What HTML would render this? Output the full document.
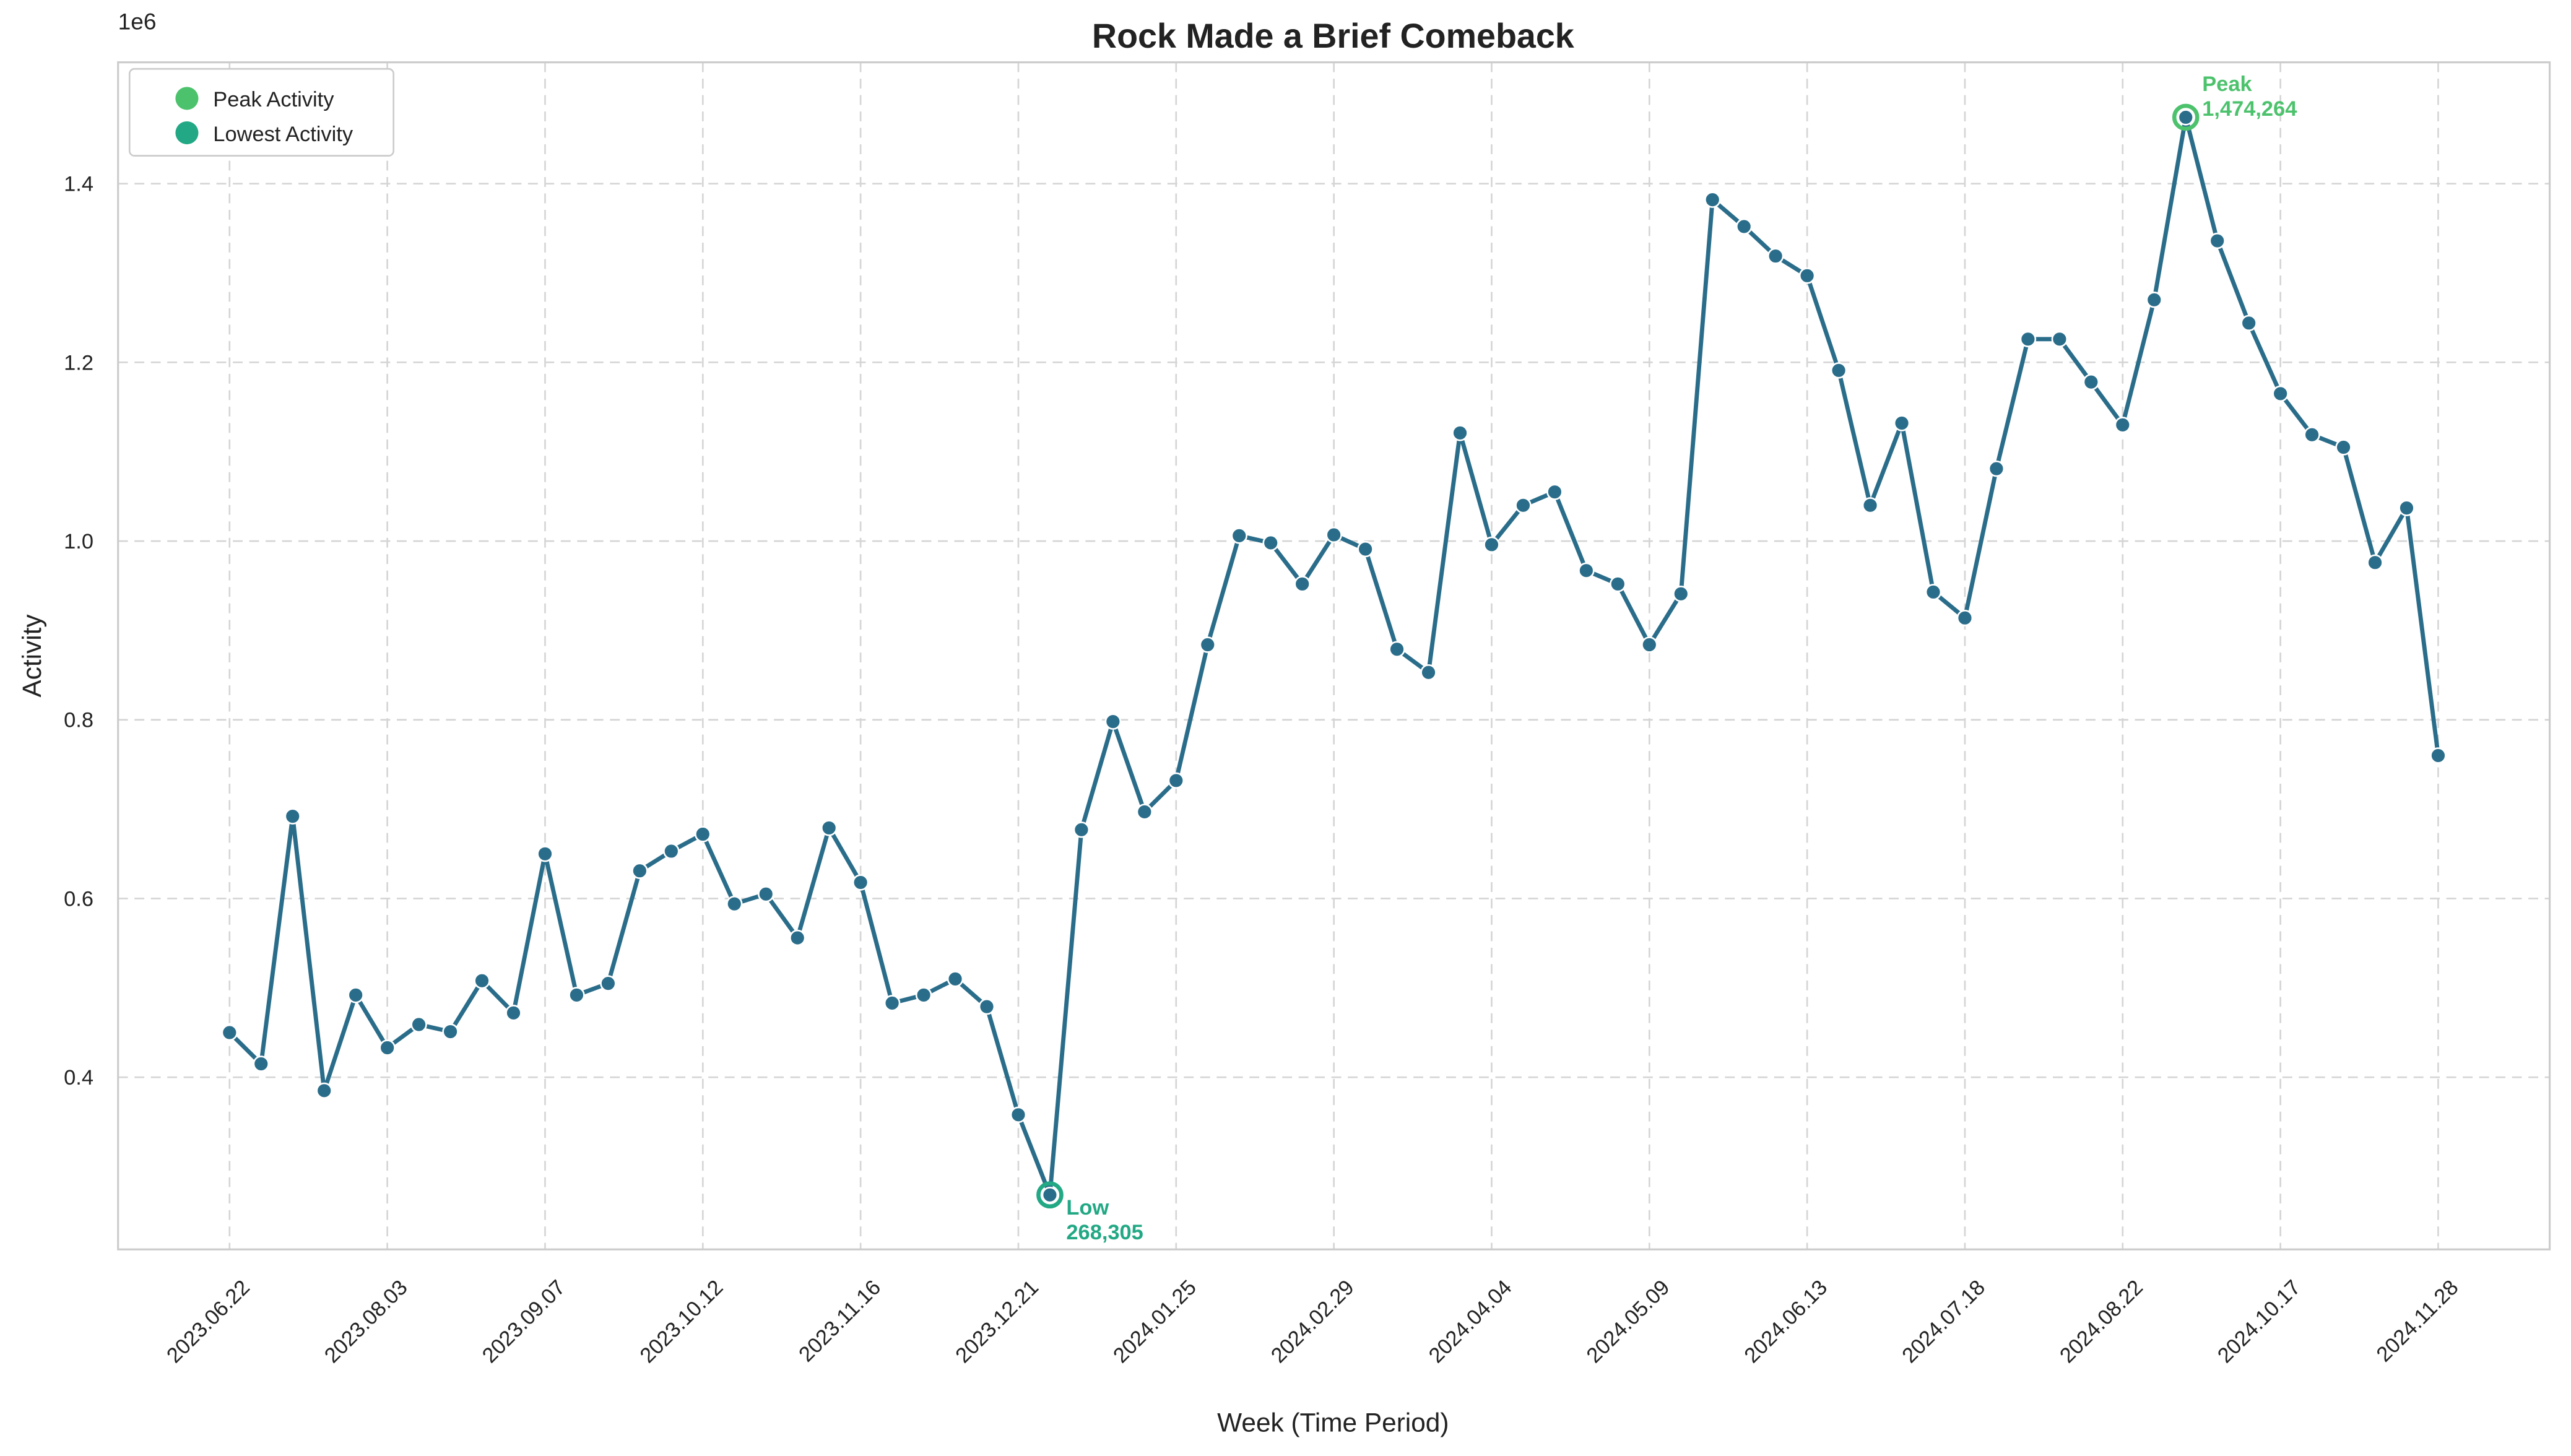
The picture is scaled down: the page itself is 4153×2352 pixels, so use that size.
<!DOCTYPE html>
<html><head><meta charset="utf-8">
<style>
html,body{margin:0;padding:0;background:#fff;}
svg{display:block;font-family:"Liberation Sans","DejaVu Sans",sans-serif;}
</style></head>
<body>
<svg id="chart" width="4153" height="2352" viewBox="0 0 1568 888" preserveAspectRatio="none" xmlns="http://www.w3.org/2000/svg">
<rect x="0" y="0" width="1568" height="888" fill="#fff"/>
<text x="813" y="29" text-anchor="middle" font-size="21" font-weight="bold" fill="#222">Rock Made a Brief Comeback</text>
<g id="grid"></g>
<rect x="72" y="38" width="1483" height="724" fill="none" stroke="#ccc" stroke-width="1.2"/>
<text x="72" y="18" font-size="14" fill="#222">1e6</text>
<text transform="translate(25,400) rotate(-90)" text-anchor="middle" font-size="16" fill="#222">Activity</text>
<text x="813" y="873" text-anchor="middle" font-size="16" fill="#222">Week (Time Period)</text>
<g id="ticks"></g>
<g id="series"></g>
<g id="annot"></g>
<g>
<rect x="79" y="42" width="161" height="53" rx="3" fill="#fff" stroke="#ccc"/>
<circle cx="114" cy="60" r="7" fill="#4cc26c"/>
<text x="130" y="65" font-size="13" fill="#222">Peak Activity</text>
<circle cx="114" cy="81" r="7" fill="#22a884"/>
<text x="130" y="86" font-size="13" fill="#222">Lowest Activity</text>
</g>
</svg>
<script>
const values=[0.450,0.415,0.692,0.385,0.492,0.433,0.459,0.451,0.508,0.472,0.650,0.492,0.505,0.631,0.653,0.672,0.594,0.605,0.556,0.679,0.618,0.483,0.492,0.510,0.479,0.358,0.268305,0.677,0.798,0.697,0.732,0.884,1.006,0.998,0.952,1.007,0.991,0.879,0.853,1.121,0.996,1.040,1.055,0.967,0.952,0.884,0.941,1.382,1.352,1.319,1.297,1.191,1.040,1.132,0.943,0.914,1.081,1.226,1.226,1.178,1.130,1.270,1.474264,1.336,1.244,1.165,1.119,1.105,0.976,1.037,0.760];
const tickLabels=["2023.06.22","2023.08.03","2023.09.07","2023.10.12","2023.11.16","2023.12.21","2024.01.25","2024.02.29","2024.04.04","2024.05.09","2024.06.13","2024.07.18","2024.08.22","2024.10.17","2024.11.28"];
const yTicks=[0.4,0.6,0.8,1.0,1.2,1.4];
const NS="http://www.w3.org/2000/svg";
const X0=140,X1=1487;
function xs(i){return X0+i*(X1-X0)/(values.length-1);}
function ys(v){return 657-(v-0.4)*545;}
function mk(tag,attrs,parent){const e=document.createElementNS(NS,tag);for(const k in attrs)e.setAttribute(k,attrs[k]);parent.appendChild(e);return e;}
const grid=document.getElementById('grid'),ticks=document.getElementById('ticks'),series=document.getElementById('series'),annot=document.getElementById('annot');
yTicks.forEach(v=>{
  const l=mk('line',{x1:72,x2:1555,y1:ys(v),y2:ys(v),stroke:'#d5d5d5','stroke-dasharray':'6,4','stroke-width':1},grid);
  
  
  const t=mk('text',{x:57,y:ys(v)+4.5,'text-anchor':'end','font-size':13,fill:'#222'},ticks);
  t.textContent=v.toFixed(1);
  
  
});
tickLabels.forEach((lab,k)=>{
  const x=xs(k*5);
  const l=mk('line',{x1:x,x2:x,y1:38,y2:762,stroke:'#d5d5d5','stroke-dasharray':'6,4','stroke-width':1},grid);
  
  
  const t=mk('text',{transform:`translate(${x+13},${786}) rotate(-45)`,'text-anchor':'end','font-size':13,fill:'#222'},ticks);
  t.textContent=lab;
  
  
});
const pts=values.map((v,i)=>xs(i).toFixed(2)+','+ys(v).toFixed(2)).join(' ');
const pl=mk('polyline',{points:pts,fill:'none',stroke:'#2a6d8a','stroke-width':2.6,'stroke-linejoin':'round'},series);


values.forEach((v,i)=>{
  const c=mk('circle',{cx:xs(i),cy:ys(v),r:4.5,fill:'#2a6d8a',stroke:'#fff','stroke-width':1},series);
  
  
});
let pi=0,li=0;values.forEach((v,i)=>{if(v>values[pi])pi=i;if(v<values[li])li=i;});
const pc=mk('circle',{cx:xs(pi),cy:ys(values[pi]),r:7,fill:'none',stroke:'#4cc26c','stroke-width':2.5},annot);


const lc=mk('circle',{cx:xs(li),cy:ys(values[li]),r:7,fill:'none',stroke:'#22a884','stroke-width':2.5},annot);


const fmt=v=>Math.round(v*1e6).toLocaleString('en-US');
const pt=mk('text',{x:xs(pi)+10,y:ys(values[pi])-16,'font-size':13,'font-weight':'bold',fill:'#4cc26c'},annot);


mk('tspan',{x:xs(pi)+10,dy:0},pt).textContent='Peak';
mk('tspan',{x:xs(pi)+10,dy:15},pt).textContent=fmt(values[pi]);
const lt=mk('text',{x:xs(li)+10,y:ys(values[li])+12,'font-size':13,'font-weight':'bold',fill:'#22a884'},annot);


mk('tspan',{x:xs(li)+10,dy:0},lt).textContent='Low';
mk('tspan',{x:xs(li)+10,dy:15},lt).textContent=fmt(values[li]);
</script>
</body></html>
